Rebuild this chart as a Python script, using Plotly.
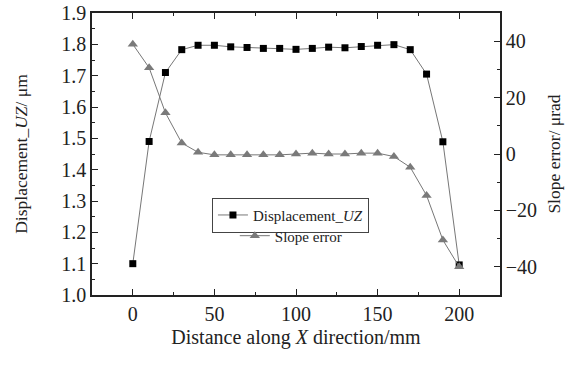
import plotly.graph_objects as go

distance_mm = [0, 10, 20, 30, 40, 50, 60, 70, 80, 90, 100, 110, 120, 130, 140, 150, 160, 170, 180, 190, 200]
displacement_uz = [1.10, 1.49, 1.71, 1.783, 1.797, 1.797, 1.792, 1.790, 1.787, 1.787, 1.784, 1.787, 1.791, 1.789, 1.793, 1.797, 1.799, 1.783, 1.705, 1.489, 1.096]
slope_error = [38.9, 30.6, 14.6, 3.9, 0.6, -0.3, -0.3, -0.3, -0.3, -0.3, 0.0, 0.3, 0.0, 0.0, 0.3, 0.3, -0.9, -4.7, -14.7, -30.5, -40.0]

font_family = "Liberation Serif, Times New Roman, serif"

fig = go.Figure()
fig.add_trace(go.Scatter(
    x=distance_mm, y=displacement_uz, name="Displacement_<i>UZ</i>",
    mode="lines+markers",
    line=dict(color="#777777", width=1),
    marker=dict(symbol="square", size=7, color="black"),
    legend="legend", showlegend=True,
))
fig.add_trace(go.Scatter(
    x=distance_mm, y=slope_error, name="Slope error", yaxis="y2",
    mode="lines+markers",
    line=dict(color="#777777", width=1),
    marker=dict(symbol="triangle-up", size=9, color="#7a7a7a"),
    legend="legend2", showlegend=True,
))

axis_common = dict(
    showgrid=False, zeroline=False, showline=True, linecolor="#222222", linewidth=1.5,
    ticks="inside", ticklen=6, tickwidth=1, tickcolor="#222222", automargin=False,
    tickfont=dict(family=font_family, size=20, color="#222222"),
)

fig.update_layout(
    width=568, height=365,
    margin=dict(l=92, r=68, t=13, b=70),
    paper_bgcolor="white", plot_bgcolor="white",
    font=dict(family=font_family, color="#222222"),
    showlegend=True,
    xaxis=dict(
        range=[-25, 225], tickvals=[0, 50, 100, 150, 200], mirror="ticks",
        minor=dict(ticks="inside", ticklen=3, dtick=25, tick0=0, tickcolor="#222222"),
        title=dict(text="Distance along <i>X</i> direction/mm", font=dict(family=font_family, size=20), standoff=6),
        ticklabelstandoff=0,
        **axis_common,
    ),
    yaxis=dict(
        range=[1.0, 1.9], dtick=0.1, tickformat=".1f", mirror=False,
        minor=dict(ticks="inside", ticklen=3, dtick=0.05, tickcolor="#222222"),
        title=dict(text="Displacement_<i>UZ</i>/ μm", font=dict(family=font_family, size=17.5), standoff=29),
        **axis_common,
    ),
    yaxis2=dict(
        range=[-50, 50], tickvals=[-40, -20, 0, 20, 40], overlaying="y", side="right",
        minor=dict(ticks="inside", ticklen=3, dtick=10, tick0=0, tickcolor="#222222"),
        title=dict(text="Slope error/ μrad", font=dict(family=font_family, size=17.5), standoff=12),
        **axis_common,
    ),
    legend=dict(
        x=0.294, y=0.345, xanchor="left", yanchor="top",
        bordercolor="#444444", borderwidth=1, bgcolor="white",
        font=dict(family=font_family, size=15), itemwidth=30, tracegroupgap=0,
    ),
    legend2=dict(
        x=0.35, y=0.268, xanchor="left", yanchor="top",
        borderwidth=0, bgcolor="rgba(0,0,0,0)",
        font=dict(family=font_family, size=15), itemwidth=30,
    ),
)

fig.write_html("out.html", config={"displayModeBar": False},
               post_script="document.body.style.margin='0';")
